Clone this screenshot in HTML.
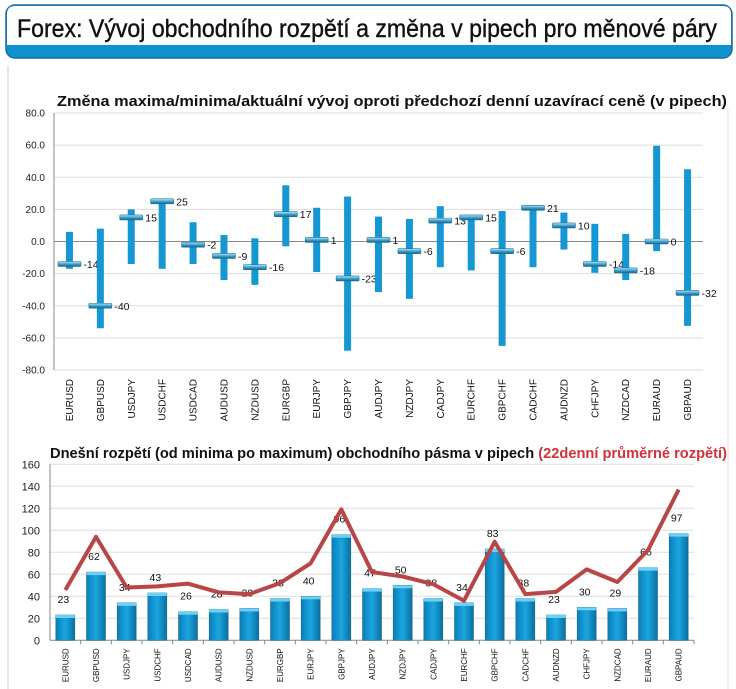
<!DOCTYPE html>
<html><head><meta charset="utf-8">
<style>
html,body{margin:0;padding:0;background:#fff;}
svg{display:block;font-family:"Liberation Sans",sans-serif;}
</style></head>
<body>
<svg id="s" width="736" height="689" viewBox="0 0 736 689" xmlns="http://www.w3.org/2000/svg">
<defs>
<linearGradient id="mk" x1="0" y1="0" x2="0" y2="1">
<stop offset="0" stop-color="#bfe6f7"/><stop offset="0.5" stop-color="#3aa6d6"/><stop offset="1" stop-color="#1b5f80"/>
</linearGradient>
<linearGradient id="bg2" x1="0" y1="0" x2="1" y2="0">
<stop offset="0" stop-color="#0a7fb8"/><stop offset="0.5" stop-color="#1aa6e0"/><stop offset="1" stop-color="#0b6f9f"/>
</linearGradient>
</defs>
<g>
<rect x="6" y="5" width="726" height="53" rx="9" fill="#0e93d0" stroke="#1a6aa0" stroke-width="1.5"/>
<path d="M7 45 V14 Q7 6 15 6 H723 Q731 6 731 14 V45 Z" fill="#fff"/>
<text x="17" y="37" font-size="25" fill="#111" stroke="#111" stroke-width="0.4" textLength="700" lengthAdjust="spacingAndGlyphs">Forex: Vývoj obchodního rozpětí a změna v pipech pro měnové páry</text>
</g>
<line x1="8" y1="66" x2="8" y2="689" stroke="#ccc"/>
<line x1="728" y1="110" x2="728" y2="689" stroke="#ddd"/>
<text x="57" y="106" font-size="15" font-weight="bold" fill="#111" textLength="670" lengthAdjust="spacingAndGlyphs">Změna maxima/minima/aktuální vývoj oproti předchozí denní uzavírací ceně (v pipech)</text>
<text x="50" y="458" font-size="14.5" font-weight="bold" fill="#111" textLength="677" lengthAdjust="spacingAndGlyphs">Dnešní rozpětí (od minima po maximum) obchodního pásma v pipech <tspan fill="#d0333a">(22denní průměrné rozpětí)</tspan></text>
<g id="c1"></g>
<g id="c2"></g>
</svg>
<script>
const pairs = ["EURUSD","GBPUSD","USDJPY","USDCHF","USDCAD","AUDUSD","NZDUSD","EURGBP","EURJPY","GBPJPY","AUDJPY","NZDJPY","CADJPY","EURCHF","GBPCHF","CADCHF","AUDNZD","CHFJPY","NZDCAD","EURAUD","GBPAUD"];
const highs = [6,8,20,24,12,4,2,35,21,28,15.5,14,22,15,19,21,18,11,4.7,59.6,45];
const lows = [-17,-54,-14,-17,-14,-24,-27,-3,-19,-68,-31.5,-35.7,-16,-18,-65,-16,-5,-19.5,-24,-6,-52.5];
const currents = [-14,-40,15,25,-2,-9,-16,17,1,-23,1,-6,13,15,-6,21,10,-14,-18,0,-32];
const ticks1 = [80,60,40,20,0,-20,-40,-60,-80];
const ranges = [23,62,34,43,26,28,29,38,40,96,47,50,38,34,83,38,23,30,29,66,97];
const avg22 = [45.7,94,48,49,51.5,43.6,42,52,70,119,62,58,51,36,89.6,42,44,64.5,53,82,137];
const ticks2 = [0,20,40,60,80,100,120,140,160];

const NS="http://www.w3.org/2000/svg";
function mk(p,tag,attrs,txt){const e=document.createElementNS(NS,tag);for(const k in attrs)e.setAttribute(k,attrs[k]);if(txt!==undefined)e.textContent=txt;p.appendChild(e);return e;}

// Chart 1
const c1=document.getElementById('c1');
const L1=54,R1=703,T1=113,B1=370,min1=-80,max1=80;
const y1=v=>B1-(v-min1)/(max1-min1)*(B1-T1);
const bw1=(R1-L1)/pairs.length;
const x1=i=>L1+bw1*(i+0.5);
ticks1.forEach(t=>{
  const g=mk(c1,'line',{x1:L1,x2:R1,y1:y1(t),y2:y1(t),stroke:t===0?'#888':'#ddd','stroke-width':1});
  
  
  const l=mk(c1,'text',{x:L1-9,y:y1(t)+3.5,'font-size':10,'text-anchor':'end',fill:'#222'},t.toFixed(1));
  
  
});
mk(c1,'line',{x1:L1,x2:L1,y1:T1,y2:B1,stroke:'#888'});
pairs.forEach((p,i)=>{
  const x=x1(i);
  const b=mk(c1,'rect',{x:x-3.5,y:y1(highs[i]),width:7,height:y1(lows[i])-y1(highs[i]),fill:'#1597d4'});
  
  
  const m=mk(c1,'rect',{x:x-11.5,y:y1(currents[i])-2.5,width:23,height:5,rx:1,fill:'url(#mk)',stroke:'#2a6f90','stroke-width':0.6});
  
  
  const v=mk(c1,'text',{x:x+14,y:y1(currents[i])+4,'font-size':10.5,fill:'#111'},String(currents[i]));
  
  
  const c=mk(c1,'text',{transform:`translate(${x+3.5},${B1+9}) rotate(-90)`,'font-size':10,'text-anchor':'end',fill:'#111'},p);
  
  
});

// Chart 2
const c2=document.getElementById('c2');
const L2=50,R2=694,T2=464.3,B2=640.3,max2=160;
const y2=v=>B2-v/max2*(B2-T2);
const bw2=(R2-L2)/pairs.length;
const x2=i=>L2+bw2*(i+0.5);
ticks2.forEach(t=>{
  const g=mk(c2,'line',{x1:L2,x2:R2,y1:y2(t),y2:y2(t),stroke:t===0?'#888':'#ddd'});
  
  
  const l=mk(c2,'text',{x:L2-10,y:y2(t)+4,'font-size':11,'text-anchor':'end',fill:'#222'},String(t));
  
  
});
mk(c2,'line',{x1:L2,x2:L2,y1:T2,y2:B2,stroke:'#888'});
pairs.forEach((p,i)=>{
  const x=x2(i);
  mk(c2,'line',{x1:L2+bw2*(i+1),x2:L2+bw2*(i+1),y1:B2,y2:B2+4,stroke:'#888'});
  const b=mk(c2,'rect',{x:x-9.5,y:y2(ranges[i]),width:19,height:B2-y2(ranges[i]),fill:'url(#bg2)',stroke:'#0a5f88','stroke-width':0.5});
  
  
  const cap=mk(c2,'rect',{x:x-9.5,y:y2(ranges[i]),width:19,height:3,fill:'#6fd0f5'});
  
  
  const v=mk(c2,'text',{x:x-2,y:y2(ranges[i])-12,'font-size':10.5,'text-anchor':'middle',fill:'#111'},String(ranges[i]));
  
  
  const c=mk(c2,'text',{transform:`translate(${x+3},${B2+8}) rotate(-90)`,'font-size':8,'text-anchor':'end',fill:'#111'},p);
  
  
});
const line=mk(c2,'polyline',{points:avg22.map((v,i)=>x2(i)+','+y2(v)).join(' '),fill:'none',stroke:'#b84646','stroke-width':4,'stroke-linejoin':'round'});


</script>
</body></html>
